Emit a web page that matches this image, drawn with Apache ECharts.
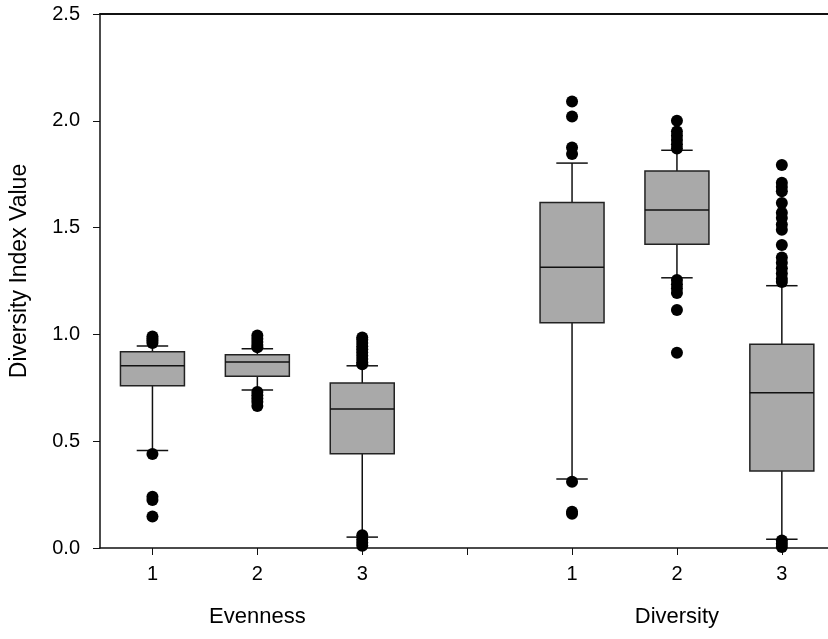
<!DOCTYPE html>
<html>
<head>
<meta charset="utf-8">
<script src="https://cdn.jsdelivr.net/npm/echarts@6/dist/echarts.min.js"></script>
<style>
  html, body { margin: 0; padding: 0; background: #fff; }
  #box_chart { width: 828px; height: 639px; }
</style>
</head>
<body>
<div id="box_chart"></div>
<script>
/* x slots: boxes sit at 1,2,3 (evenness) and 5,6,7 (diversity); slot 4 is an empty tick */
var tickPos = [1, 2, 3, 4, 5, 6, 7];
var tickLabels = ['1', '2', '3', '', '1', '2', '3'];
var groupPos = [2, 6];
var groupLabels = ['Evenness', 'Diversity'];
var yTicks = [0, 0.5, 1.0, 1.5, 2.0, 2.5];

/* box statistics, one entry per box */
var boxPos = [1, 2, 3, 5, 6, 7];
var lowerWhisker = [0.457, 0.740, 0.051, 0.323, 1.265, 0.041];
var q1 = [0.760, 0.804, 0.441, 1.055, 1.422, 0.360];
var median = [0.853, 0.871, 0.651, 1.314, 1.582, 0.727];
var q3 = [0.919, 0.905, 0.772, 1.618, 1.765, 0.954];
var upperWhisker = [0.946, 0.933, 0.853, 1.802, 1.862, 1.228];

/* outlying points */
var outE1 = [0.99, 0.98, 0.97, 0.96, 0.44, 0.24, 0.225, 0.147];
var outE2 = [0.995, 0.98, 0.965, 0.95, 0.94, 0.73, 0.715, 0.70, 0.685, 0.665];
var outE3 = [0.985, 0.975, 0.96, 0.945, 0.93, 0.915, 0.90, 0.885, 0.87, 0.86, 0.06, 0.04, 0.025, 0.01];
var outD1 = [2.09, 2.02, 1.875, 1.845, 0.31, 0.17, 0.16];
var outD2 = [2.00, 1.95, 1.93, 1.91, 1.89, 1.87, 1.255, 1.235, 1.215, 1.194, 1.114, 0.914];
var outD3 = [1.793, 1.71, 1.69, 1.67, 1.615, 1.57, 1.545, 1.515, 1.49, 1.419, 1.36, 1.335, 1.31, 1.285, 1.26, 1.245, 0.035, 0.02, 0.005];

(function(){
	var myChart = echarts.init(document.getElementById('box_chart'));
	var font = 'Liberation Sans, Arial, sans-serif';

	var boxData = boxPos.map(function(p, i){
		return [p, lowerWhisker[i], q1[i], median[i], q3[i], upperWhisker[i]];
	});

	var outliers = [];
	[outE1, outE2, outE3, outD1, outD2, outD3].forEach(function(list, i){
		list.forEach(function(v){ outliers.push([boxPos[i], v]); });
	});

	function renderBox(params, api){
		var x = api.value(0);
		var lo = api.coord([x, api.value(1)]);
		var b1 = api.coord([x, api.value(2)]);
		var md = api.coord([x, api.value(3)]);
		var b3 = api.coord([x, api.value(4)]);
		var hi = api.coord([x, api.value(5)]);
		var unit = api.size([1, 0])[0];
		var half = unit * 0.305;
		var cap = unit * 0.15;
		var cx = md[0];
		var ln = { stroke: '#111', lineWidth: 1.5 };
		return {
			type: 'group',
			children: [
				{ type: 'line', shape: { x1: cx, y1: hi[1], x2: cx, y2: b3[1] }, style: ln },
				{ type: 'line', shape: { x1: cx, y1: b1[1], x2: cx, y2: lo[1] }, style: ln },
				{ type: 'line', shape: { x1: cx - cap, y1: hi[1], x2: cx + cap, y2: hi[1] }, style: ln },
				{ type: 'line', shape: { x1: cx - cap, y1: lo[1], x2: cx + cap, y2: lo[1] }, style: ln },
				{ type: 'rect', shape: { x: cx - half, y: b3[1], width: half * 2, height: b1[1] - b3[1] },
					style: { fill: '#a9a9a9', stroke: '#222', lineWidth: 1.5 } },
				{ type: 'line', shape: { x1: cx - half, y1: md[1], x2: cx + half, y2: md[1] }, style: ln }
			]
		};
	}

	var xMin = 0.5, xMax = 7.44;

	var option = {
		animation: false,
		backgroundColor: '#fff',
		grid: {
			left: 99,
			top: 14,
			bottom: 91,
			right: 0
		},
		xAxis: [
			{
				type: 'value',
				min: xMin,
				max: xMax,
				axisLine: { show: true, onZero: false, lineStyle: { color: '#111', width: 1.5 } },
				axisTick: { show: true, length: 7, customValues: tickPos, lineStyle: { color: '#111' } },
				axisLabel: {
					color: '#000', fontSize: 20, fontFamily: font, margin: 16,
					customValues: tickPos,
					formatter: function(v){ return tickLabels[tickPos.indexOf(Math.round(v))] || ''; }
				},
				splitLine: { show: false }
			},
			{
				type: 'value',
				position: 'bottom',
				min: xMin,
				max: xMax,
				axisLine: { show: false },
				axisTick: { show: false },
				axisLabel: {
					color: '#000', fontSize: 22, fontFamily: font, margin: 58,
					customValues: groupPos,
					formatter: function(v){ return groupLabels[groupPos.indexOf(Math.round(v))] || ''; }
				},
				splitLine: { show: false }
			},
			{
				type: 'value',
				position: 'top',
				min: xMin,
				max: xMax,
				axisLine: { show: true, onZero: false, lineStyle: { color: '#111', width: 2 } },
				axisTick: { show: false },
				axisLabel: { show: false },
				splitLine: { show: false }
			}
		],
		yAxis: {
			type: 'value',
			min: yTicks[0],
			max: yTicks[yTicks.length - 1],
			interval: 0.5,
			name: 'Diversity Index Value',
			nameLocation: 'middle',
			nameGap: 69,
			nameTextStyle: { color: '#000', fontSize: 23, fontFamily: font, padding: [0, 0, 0, 20] },
			axisLine: { show: true, lineStyle: { color: '#111', width: 1.5 } },
			axisTick: { show: true, length: 7, lineStyle: { color: '#111' } },
			axisLabel: {
				color: '#000', fontSize: 20, fontFamily: font, margin: 20,
				formatter: function(v){ return v.toFixed(1); }
			},
			splitLine: { show: false }
		},
		series: [
			{
				name: 'boxes',
				type: 'custom',
				xAxisIndex: 0,
				renderItem: renderBox,
				encode: { x: 0, y: [1, 2, 3, 4, 5] },
				data: boxData,
				z: 2
			},
			{
				name: 'outliers',
				type: 'scatter',
				xAxisIndex: 0,
				symbol: 'circle',
				symbolSize: 12,
				itemStyle: { color: '#000', opacity: 1 },
				data: outliers,
				z: 3
			}
		]
	};
	myChart.setOption(option);
})();
</script>
</body>
</html>
